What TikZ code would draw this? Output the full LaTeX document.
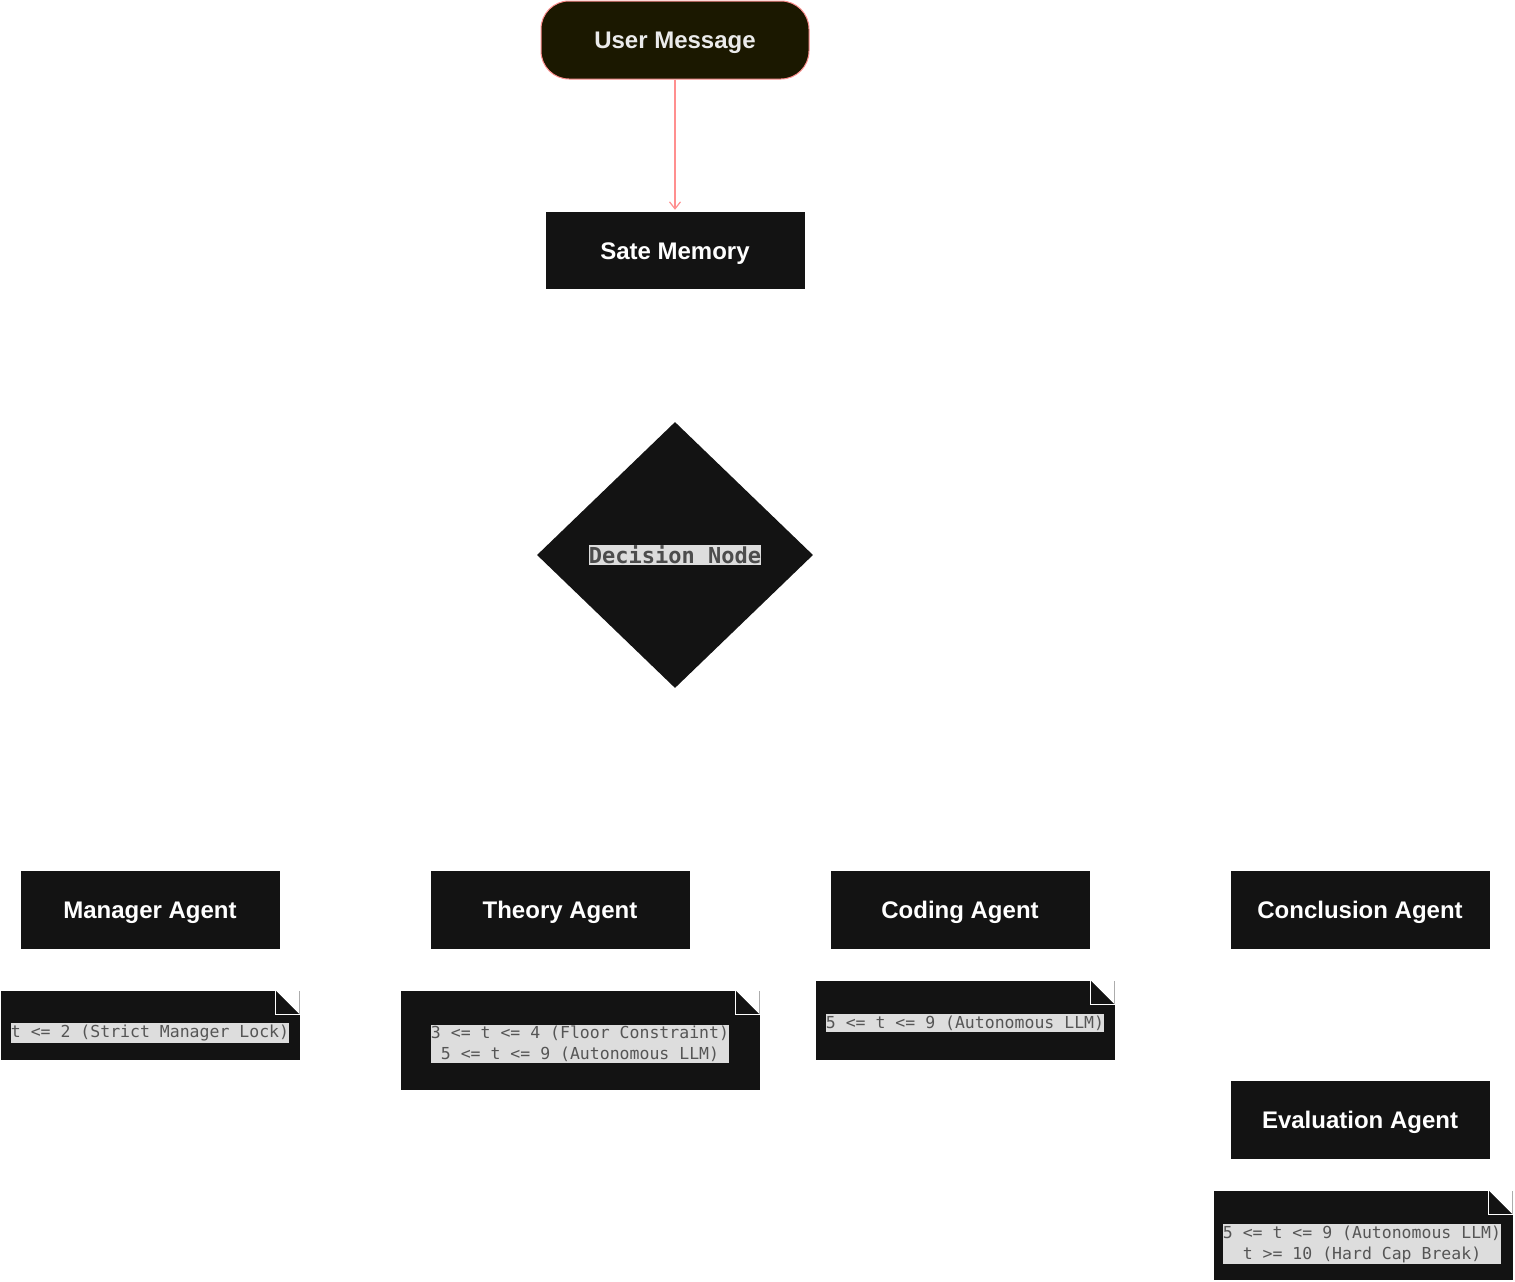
\documentclass[tikz,border=0pt]{standalone}
\usepackage{fontspec}
\setmainfont{Liberation Sans}
\newfontfamily\codefont{DejaVu Sans Mono}
\usetikzlibrary{arrows.meta,shapes.geometric}
\definecolor{boxfill}{HTML}{131313}
\definecolor{userfill}{HTML}{1B1800}
\definecolor{pinkline}{HTML}{FF8F8F}
\definecolor{hlgray}{HTML}{DDDDDD}
\definecolor{codegray}{HTML}{555555}
\newcommand{\dogear}[1]{
 \fill[white]([xshift=-24pt]#1.north east)--(#1.north east)--([yshift=-24pt]#1.north east)--cycle;
 \draw[white,line width=1pt]([xshift=-24pt]#1.north east)--([xshift=-24pt,yshift=-24pt]#1.north east)--([yshift=-24pt]#1.north east);
}
\tikzset{
 agent/.style={rectangle,fill=boxfill,text=white,inner sep=0pt,minimum width=259pt,minimum height=78pt,text height=17pt,text depth=0pt,font=\fontsize{24}{28}\selectfont\bfseries},
 notebox/.style={rectangle,fill=boxfill,inner sep=0pt},
 hilite/.style={fill=hlgray,text=codegray,inner xsep=0pt,inner ysep=1.5pt,align=center,font=\codefont\fontsize{16.5}{21}\selectfont}
}
\begin{document}
\begin{tikzpicture}[x=1pt,y=-1pt]
 \useasboundingbox (0,0) rectangle (1515,1282);
 \node[agent,fill=userfill,draw=pinkline,line width=1pt,rounded corners=28pt,minimum width=268pt,text={black!8}] (user) at (675,40) {User Message};
 \node[agent,minimum height=77pt] (memory) at (675,250.5) {Sate Memory};
 \node[diamond,fill=boxfill,inner sep=0pt,minimum width=276pt,minimum height=266pt] (decide) at (675,555) {};
 \node[hilite,inner ysep=1pt,font=\codefont\fontsize{22}{26}\selectfont\bfseries,text={black!70}] (decidetext) at (decide.center) {Decision Node};
 \draw[pinkline,line width=1.2pt,-{Straight Barb[length=7pt,width=11pt]}] (user.south) -- ([yshift=2pt]memory.north);

 \node[agent] (manager) at (150,910) {Manager Agent};
 \node[agent] (theory) at (560,910) {Theory Agent};
 \node[agent] (coding) at (960,910) {Coding Agent};
 \node[agent] (conclusion) at (1360,910) {Conclusion Agent};
 \node[agent] (evaluation) at (1360,1120) {Evaluation Agent};

 \node[notebox,minimum width=299pt,minimum height=69pt] (note1) at (150,1025) {};
 \node[notebox,minimum width=359pt,minimum height=99pt] (note2) at (580,1040) {};
 \node[notebox,minimum width=299pt,minimum height=79pt] (note3) at (965,1020) {};
 \node[notebox,minimum width=299pt,minimum height=89pt] (note4) at (1363,1235) {};
 \dogear{note1}
 \dogear{note2}
 \dogear{note3}
 \dogear{note4}
 \node[hilite] (rule1) at (150,1033) {t <= 2 (Strict Manager Lock)};
 \node[hilite] (rule2) at (580,1044) {3 <= t <= 4 (Floor Constraint)\\5 <= t <= 9 (Autonomous LLM)};
 \node[hilite] (rule3) at (965,1023) {5 <= t <= 9 (Autonomous LLM)};
 \node[hilite] (rule4) at (1362,1244) {5 <= t <= 9 (Autonomous LLM)\\t >= 10 (Hard Cap Break)};
\end{tikzpicture}
\end{document}
